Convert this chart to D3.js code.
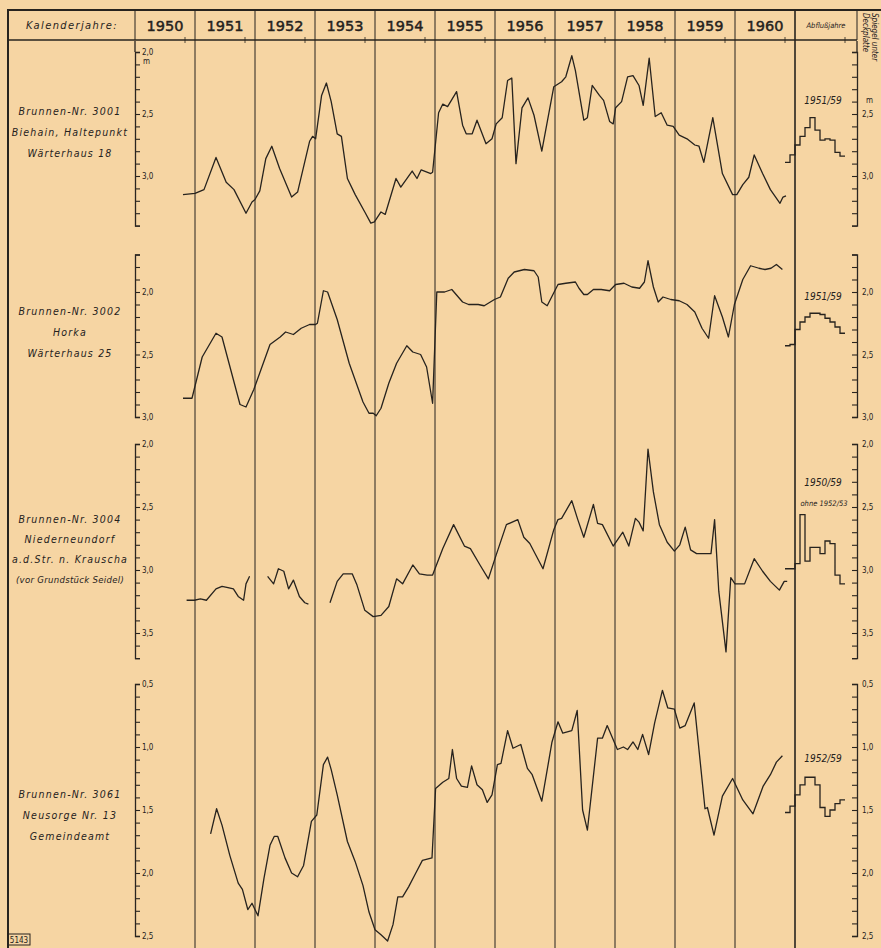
<!DOCTYPE html>
<html lang="de">
  <head>
    <meta charset="utf-8">
    <title>Grundwasserstände Brunnen 3001 - 3061</title>
    <script src="https://cdn.jsdelivr.net/npm/d3@7"></script>
    <style>
      body { margin: 0; background: #f6d5a3; }
      svg { display: block; }
      text { fill: #25211c; }
      .tick line { stroke: #2a2520; }
      .domain { stroke: #2a2520; }
    </style>
  </head>
  <body>
    <div id="chart"></div>
  </body>
</html>

<script>

const kalenderjahre = ["1950", "1951", "1952", "1953", "1954", "1955", "1956", "1957", "1958", "1959", "1960"];

const stationLabels = [
  ["Brunnen-Nr. 3001", "Biehain, Haltepunkt", "Wärterhaus 18"],
  ["Brunnen-Nr. 3002", "Horka", "Wärterhaus 25"],
  ["Brunnen-Nr. 3004", "Niederneundorf", "a.d.Str. n. Krauscha", "(vor Grundstück Seidel)"],
  ["Brunnen-Nr. 3061", "Neusorge Nr. 13", "Gemeindeamt"]
];

const abflussjahre = ["1951/59", "1951/59", "1950/59", "1952/59"];

// [Zeitpunkt, Spiegel unter Deckplatte in m]
const brunnen3001 = [
  [1950.80,3.15],[1951.00,3.14],[1951.15,3.11],[1951.35,2.85],[1951.52,3.05],[1951.65,3.11],[1951.85,3.30],
  [1951.95,3.21],[1952.00,3.19],[1952.08,3.12],[1952.18,2.86],[1952.28,2.76],[1952.41,2.94],[1952.61,3.17],
  [1952.71,3.13],[1952.91,2.72],[1952.96,2.68],[1953.01,2.70],[1953.11,2.35],[1953.19,2.25],[1953.27,2.40],
  [1953.37,2.66],[1953.44,2.68],[1953.54,3.02],[1953.67,3.15],[1953.83,3.29],[1953.93,3.38],[1953.99,3.37],
  [1954.10,3.29],[1954.17,3.31],[1954.35,3.02],[1954.43,3.09],[1954.62,2.96],[1954.70,3.02],[1954.77,2.95],
  [1954.93,2.98],[1954.96,2.97],[1955.06,2.49],[1955.13,2.42],[1955.21,2.44],[1955.36,2.32],[1955.46,2.59],
  [1955.52,2.66],[1955.62,2.66],[1955.70,2.55],[1955.85,2.74],[1955.95,2.70],[1956.02,2.58],[1956.12,2.53],
  [1956.21,2.23],[1956.28,2.21],[1956.35,2.90],[1956.45,2.45],[1956.55,2.37],[1956.65,2.51],[1956.78,2.80],
  [1956.98,2.28],[1957.11,2.24],[1957.18,2.20],[1957.28,2.03],[1957.34,2.15],[1957.48,2.55],[1957.54,2.53],
  [1957.62,2.27],[1957.74,2.35],[1957.81,2.39],[1957.91,2.56],[1957.97,2.58],[1958.01,2.45],[1958.11,2.40],
  [1958.21,2.20],[1958.30,2.19],[1958.40,2.27],[1958.47,2.43],[1958.57,2.05],[1958.67,2.52],[1958.77,2.49],
  [1958.87,2.59],[1958.97,2.60],[1959.07,2.67],[1959.20,2.70],[1959.33,2.75],[1959.40,2.76],[1959.48,2.89],
  [1959.63,2.53],[1959.79,2.98],[1959.96,3.15],[1960.03,3.15],[1960.13,3.07],[1960.23,3.01],[1960.32,2.83],
  [1960.46,2.98],[1960.59,3.11],[1960.75,3.22],[1960.80,3.17],[1960.85,3.16]
];

const brunnen3002 = [
  [1950.80,2.85],[1950.95,2.85],[1951.12,2.52],[1951.35,2.33],[1951.45,2.36],[1951.75,2.90],[1951.85,2.92],
  [1951.98,2.78],[1952.25,2.42],[1952.42,2.36],[1952.51,2.32],[1952.64,2.34],[1952.77,2.29],[1952.91,2.26],
  [1953.01,2.26],[1953.04,2.25],[1953.14,1.99],[1953.21,2.00],[1953.37,2.22],[1953.57,2.57],[1953.80,2.88],
  [1953.90,2.97],[1953.97,2.97],[1954.02,2.99],[1954.10,2.93],[1954.23,2.73],[1954.36,2.57],[1954.53,2.43],
  [1954.63,2.48],[1954.76,2.50],[1954.86,2.60],[1954.96,2.89],[1955.03,2.00],[1955.16,2.00],[1955.28,1.98],
  [1955.46,2.08],[1955.56,2.10],[1955.72,2.10],[1955.82,2.11],[1955.99,2.06],[1956.09,2.04],[1956.22,1.89],
  [1956.32,1.84],[1956.49,1.82],[1956.65,1.83],[1956.72,1.88],[1956.78,2.08],[1956.87,2.11],[1957.05,1.94],
  [1957.18,1.93],[1957.34,1.92],[1957.40,1.97],[1957.48,2.02],[1957.54,2.02],[1957.64,1.98],[1957.77,1.98],
  [1957.91,1.99],[1958.01,1.94],[1958.15,1.93],[1958.28,1.96],[1958.41,1.97],[1958.49,1.92],[1958.55,1.75],
  [1958.64,1.96],[1958.72,2.08],[1958.80,2.04],[1958.93,2.06],[1959.07,2.07],[1959.20,2.10],[1959.33,2.16],
  [1959.45,2.29],[1959.56,2.37],[1959.66,2.03],[1959.79,2.20],[1959.89,2.36],[1959.99,2.10],[1960.13,1.90],
  [1960.26,1.79],[1960.40,1.81],[1960.50,1.82],[1960.60,1.81],[1960.69,1.78],[1960.79,1.82]
];

// null = Messlücke
const brunnen3004 = [
  [1950.86,3.24],[1950.99,3.24],[1951.09,3.23],[1951.19,3.24],[1951.35,3.15],[1951.45,3.13],[1951.55,3.14],
  [1951.64,3.15],[1951.72,3.21],[1951.81,3.24],[1951.85,3.11],[1951.91,3.05],null,
  [1952.21,3.05],[1952.31,3.11],[1952.39,2.99],[1952.48,3.01],[1952.56,3.15],[1952.64,3.08],[1952.74,3.21],
  [1952.83,3.26],[1952.89,3.27],null,
  [1953.25,3.26],[1953.37,3.09],[1953.47,3.03],[1953.62,3.03],[1953.70,3.12],[1953.83,3.32],[1953.97,3.37],
  [1954.10,3.36],[1954.23,3.29],[1954.36,3.07],[1954.46,3.11],[1954.63,2.96],[1954.74,3.03],[1954.87,3.04],
  [1954.96,3.04],[1955.13,2.83],[1955.31,2.64],[1955.49,2.81],[1955.59,2.83],[1955.75,2.96],[1955.89,3.07],
  [1956.02,2.88],[1956.19,2.64],[1956.38,2.60],[1956.48,2.74],[1956.58,2.79],[1956.80,2.99],[1956.98,2.68],
  [1957.05,2.60],[1957.11,2.59],[1957.28,2.45],[1957.38,2.60],[1957.48,2.74],[1957.64,2.48],[1957.71,2.63],
  [1957.79,2.64],[1957.97,2.81],[1958.13,2.70],[1958.23,2.81],[1958.34,2.59],[1958.40,2.62],[1958.47,2.69],
  [1958.55,2.04],[1958.64,2.38],[1958.74,2.64],[1958.87,2.78],[1958.99,2.85],[1959.08,2.80],[1959.17,2.66],
  [1959.26,2.84],[1959.36,2.87],[1959.50,2.87],[1959.60,2.87],[1959.66,2.60],[1959.73,3.17],[1959.85,3.65],
  [1959.93,3.06],[1960.00,3.11],[1960.09,3.11],[1960.16,3.11],[1960.32,2.91],[1960.46,3.01],[1960.59,3.09],
  [1960.74,3.16],[1960.82,3.09],[1960.87,3.09]
];

const brunnen3061 = [
  [1951.26,1.69],[1951.36,1.49],[1951.45,1.62],[1951.58,1.86],[1951.72,2.08],[1951.79,2.13],[1951.88,2.29],
  [1951.95,2.24],[1952.05,2.34],[1952.15,2.04],[1952.25,1.78],[1952.32,1.71],[1952.38,1.71],[1952.50,1.88],
  [1952.61,2.00],[1952.71,2.03],[1952.81,1.94],[1952.94,1.59],[1953.03,1.54],[1953.14,1.14],[1953.21,1.08],
  [1953.27,1.18],[1953.37,1.38],[1953.54,1.75],[1953.67,1.91],[1953.80,2.10],[1953.90,2.31],[1954.00,2.45],
  [1954.10,2.49],[1954.21,2.54],[1954.30,2.41],[1954.38,2.19],[1954.46,2.19],[1954.56,2.11],[1954.68,2.00],
  [1954.79,1.90],[1954.95,1.88],[1955.01,1.33],[1955.13,1.28],[1955.23,1.25],[1955.29,1.02],[1955.36,1.25],
  [1955.44,1.31],[1955.54,1.32],[1955.61,1.15],[1955.70,1.30],[1955.79,1.34],[1955.87,1.44],[1955.95,1.38],
  [1956.04,1.14],[1956.10,1.13],[1956.21,0.87],[1956.30,1.01],[1956.43,0.98],[1956.54,1.17],[1956.62,1.22],
  [1956.78,1.43],[1956.95,0.96],[1957.05,0.80],[1957.13,0.89],[1957.28,0.87],[1957.37,0.71],[1957.46,1.50],
  [1957.54,1.66],[1957.71,0.93],[1957.79,0.93],[1957.87,0.83],[1958.04,1.02],[1958.14,1.00],[1958.21,1.02],
  [1958.30,0.96],[1958.38,1.02],[1958.46,0.90],[1958.56,1.06],[1958.66,0.81],[1958.79,0.55],[1958.88,0.69],
  [1958.99,0.70],[1959.08,0.85],[1959.17,0.83],[1959.32,0.65],[1959.50,1.49],[1959.54,1.48],[1959.65,1.70],
  [1959.79,1.39],[1959.96,1.25],[1960.13,1.42],[1960.30,1.53],[1960.47,1.31],[1960.59,1.22],[1960.69,1.12],
  [1960.79,1.07]
];

// Monatsmittel Nov - Okt der Abflussjahre
const mittel3001 = [2.89, 2.83, 2.75, 2.68, 2.61, 2.53, 2.63, 2.71, 2.70, 2.71, 2.81, 2.84];
const mittel3002 = [2.43, 2.42, 2.30, 2.24, 2.20, 2.17, 2.17, 2.18, 2.21, 2.24, 2.28, 2.33];
const mittel3004 = [2.99, 2.99, 2.95, 2.56, 2.93, 2.82, 2.82, 2.87, 2.77, 2.79, 3.04, 3.11];
const mittel3061 = [1.52, 1.47, 1.38, 1.30, 1.24, 1.24, 1.30, 1.48, 1.55, 1.50, 1.45, 1.42];

const width = 881;
const height = 948;
const ink = "#27231e";

const panels = [
  { series: brunnen3001, mittel: mittel3001, domain: [2.0, 3.4], top: 52, px: 124, axisTop: 41, labelY: 115, mLabel: true, periodY: 104 },
  { series: brunnen3002, mittel: mittel3002, domain: [1.7, 3.0], top: 254.5, px: 125, labelY: 315, periodY: 300 },
  { series: brunnen3004, mittel: mittel3004, domain: [2.0, 3.7], top: 444, px: 126, labelY: 523, periodY: 486, ohne: true },
  { series: brunnen3061, mittel: mittel3061, domain: [0.5, 2.5], top: 684, px: 126, labelY: 798, periodY: 762 }
];

const x = d3.scaleLinear()
  .domain([1950, 1961])
  .range([135, 795]);

const xMini = d3.scaleLinear()
  .domain([0, 12])
  .range([785, 845]);

const svg = d3.select("#chart")
  .append("svg")
  .attr("width", width)
  .attr("height", height)
  .style("font-family", "'DejaVu Sans Condensed', 'DejaVu Sans', sans-serif");

// Rahmen und Kopfzeile
svg.append("path")
  .attr("d", `M8,${height} V10 H${width}`)
  .attr("fill", "none")
  .attr("stroke", ink)
  .attr("stroke-width", 2);

svg.append("line")
  .attr("x1", 8).attr("x2", 857)
  .attr("y1", 40).attr("y2", 40)
  .attr("stroke", ink)
  .attr("stroke-width", 1.3);

svg.selectAll(".hydro-tick")
  .data(kalenderjahre)
  .join("line")
  .attr("class", "hydro-tick")
  .attr("x1", d => x(+d + 10 / 12))
  .attr("x2", d => x(+d + 10 / 12))
  .attr("y1", 37).attr("y2", 43)
  .attr("stroke", ink)
  .attr("stroke-width", 0.8);

svg.append("line")
  .attr("x1", xMini(12)).attr("x2", xMini(12))
  .attr("y1", 37).attr("y2", 43)
  .attr("stroke", ink)
  .attr("stroke-width", 0.8);

svg.append("line")
  .attr("x1", 135).attr("x2", 135)
  .attr("y1", 10).attr("y2", 40)
  .attr("stroke", ink);

svg.append("line")
  .attr("x1", 857).attr("x2", 857)
  .attr("y1", 10).attr("y2", 40)
  .attr("stroke", ink);

// Jahresgrenzen
svg.selectAll(".year-line")
  .data(kalenderjahre.slice(1).concat(["1961"]))
  .join("line")
  .attr("class", "year-line")
  .attr("x1", d => x(+d))
  .attr("x2", d => x(+d))
  .attr("y1", 10)
  .attr("y2", height)
  .attr("stroke", ink)
  .attr("stroke-width", d => d === "1961" ? 1.6 : 1);

svg.append("text")
  .attr("x", 72)
  .attr("y", 29)
  .attr("text-anchor", "middle")
  .style("font-size", "11px")
  .style("font-style", "italic")
  .style("letter-spacing", "1.4px")
  .text("Kalenderjahre:");

svg.selectAll(".year-label")
  .data(kalenderjahre)
  .join("text")
  .attr("class", "year-label")
  .attr("x", d => x(+d + 0.5))
  .attr("y", 31)
  .attr("text-anchor", "middle")
  .style("font-family", "'DejaVu Sans', sans-serif")
  .style("font-size", "14.5px")
  .style("stroke", "#25211c")
  .style("stroke-width", 0.45)
  .text(d => d);

svg.append("text")
  .attr("x", 826)
  .attr("y", 28)
  .attr("text-anchor", "middle")
  .style("font-size", "7.5px")
  .style("font-style", "italic")
  .text("Abflußjahre");

const sideTitle = svg.append("g")
  .attr("transform", "translate(870, 13) rotate(90)")
  .style("font-size", "8px")
  .style("font-style", "italic");

sideTitle.append("text").attr("y", -2).text("Spiegel unter");
sideTitle.append("text").attr("y", 7).text("Deckplatte");

svg.append("text")
  .attr("x", 866)
  .attr("y", 103)
  .style("font-size", "8px")
  .text("m");

// Ganglinien
const fmt = v => d3.format(".1f")(v).replace(".", ",");
const isMajor = v => Math.abs(v * 2 - Math.round(v * 2)) < 1e-6;

panels.forEach((p, i) => {
  const y = d3.scaleLinear()
    .domain(p.domain)
    .range([p.top, p.top + (p.domain[1] - p.domain[0]) * p.px]);

  const ticks = d3.range(Math.round(p.domain[0] * 10), Math.round(p.domain[1] * 10) + 1).map(d => d / 10);

  const left = svg.append("g")
    .attr("transform", "translate(135,0)")
    .call(d3.axisRight(y)
      .tickValues(ticks)
      .tickSize(5)
      .tickSizeOuter(5)
      .tickPadding(2)
      .tickFormat(v => isMajor(v) ? fmt(v) : ""));

  const right = svg.append("g")
    .attr("transform", "translate(857,0)")
    .call(d3.axisRight(y)
      .tickValues(ticks)
      .tickSize(-5)
      .tickSizeOuter(-5)
      .tickPadding(5)
      .tickFormat(v => isMajor(v) && !(i === 0 && v === 2.0) ? fmt(v) : ""));

  [left, right].forEach(g => {
    g.select(".domain").attr("stroke-width", 1.3);
    g.selectAll(".tick line").attr("stroke-width", 1.1);
    g.selectAll("text")
      .style("font-size", "8px")
      .style("font-family", "'DejaVu Sans Condensed', sans-serif");
  });

  if (p.axisTop) {
    left.append("line")
      .attr("x1", 0).attr("x2", 0)
      .attr("y1", p.axisTop).attr("y2", p.top)
      .attr("stroke", ink).attr("stroke-width", 1.3);
    right.append("line")
      .attr("x1", 0).attr("x2", 0)
      .attr("y1", p.axisTop).attr("y2", p.top)
      .attr("stroke", ink).attr("stroke-width", 1.3);
  }

  if (p.mLabel) {
    svg.append("text")
      .attr("x", 143)
      .attr("y", 64)
      .style("font-size", "8px")
      .text("m");
  }

  const line = d3.line()
    .defined(d => d !== null)
    .x(d => x(d[0]))
    .y(d => y(d[1]))
    .curve(d3.curveLinear);

  svg.append("path")
    .datum(p.series)
    .attr("d", line)
    .attr("fill", "none")
    .attr("stroke", ink)
    .attr("stroke-width", 1.3)
    .attr("stroke-linejoin", "round");

  const step = d3.line()
    .x((d, j) => xMini(j))
    .y(d => y(d))
    .curve(d3.curveStepAfter);

  svg.append("path")
    .datum(p.mittel.concat([p.mittel[p.mittel.length - 1]]))
    .attr("d", step)
    .attr("fill", "none")
    .attr("stroke", ink)
    .attr("stroke-width", 1.3);

  svg.append("text")
    .attr("x", 823)
    .attr("y", p.periodY)
    .attr("text-anchor", "middle")
    .style("font-size", "10px")
    .style("font-style", "italic")
    .text(abflussjahre[i]);

  if (p.ohne) {
    svg.append("text")
      .attr("x", 824)
      .attr("y", p.periodY + 20)
      .attr("text-anchor", "middle")
      .style("font-size", "7.5px")
      .style("font-style", "italic")
      .text("ohne 1952/53");
  }

  svg.selectAll(null)
    .data(stationLabels[i])
    .join("text")
    .attr("x", 70)
    .attr("y", (d, j) => p.labelY + j * (stationLabels[i].length > 3 ? 20 : 21))
    .attr("text-anchor", "middle")
    .style("font-size", d => d.length > 20 ? "9.5px" : "10.5px")
    .style("font-style", "italic")
    .style("letter-spacing", d => d.length > 20 ? "0.3px" : "1.2px")
    .text(d => d);
});

svg.append("rect")
  .attr("x", 8).attr("y", 934)
  .attr("width", 22).attr("height", 11)
  .attr("fill", "none")
  .attr("stroke", ink);

svg.append("text")
  .attr("x", 19).attr("y", 943)
  .attr("text-anchor", "middle")
  .style("font-size", "8px")
  .text("5143");

</script>
